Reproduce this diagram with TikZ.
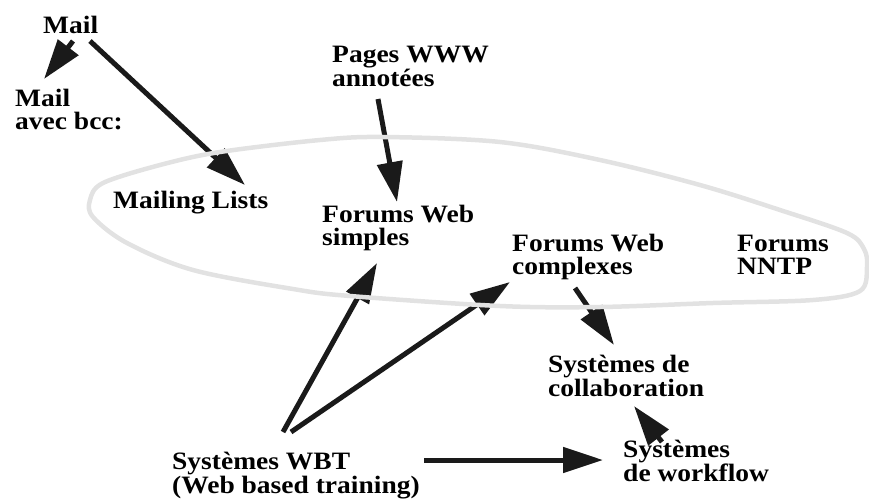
\documentclass[tikz,border=0pt]{standalone}
\usepackage{fontspec}
\setmainfont{Liberation Serif}[FakeStretch=1.10]
\usetikzlibrary{arrows.meta}
\definecolor{arrowink}{HTML}{1A1A1A}
\definecolor{loopgray}{HTML}{E2E2E2}
\begin{document}
\begin{tikzpicture}[x=1pt,y=-1pt,
  % labels are placed by the baseline of their last line
  lbl/.style={anchor=base west, inner sep=0pt, align=left,
              font=\fontsize{25}{22.5}\selectfont\bfseries},
  link/.style={line width=5pt, draw=arrowink, fill=arrowink,
               -{Triangle[length=40pt,width=25pt]}},
  grouploop/.style={line width=4.5pt, draw=loopgray}]
\useasboundingbox (0,0) rectangle (869,498);

% labels
\node[lbl] (mail)     at (43,33)   {Mail};
\node[lbl] (bcc)      at (15,129)  {Mail\\avec bcc:};
\node[lbl] (pages)    at (332,86)  {Pages WWW\\annotées};
\node[lbl] (mlists)   at (113,208) {Mailing Lists};
\node[lbl] (fsimple)  at (322,245) {Forums Web\\simples};
\node[lbl] (fcomplex) at (512,274) {Forums Web\\complexes};
\node[lbl] (nntp)     at (737,274) {Forums\\NNTP};
\node[lbl] (collab)   at (548,396) {Systèmes de\\collaboration};
\node[lbl] (wflow)    at (623,481) {Systèmes\\de workflow};
\node[lbl] (wbt)      at (172,493) {Systèmes WBT\\(Web based training)};

% connector end points
\coordinate (mailA)   at (73,41);
\coordinate (bccIn)   at (44,79);
\coordinate (mailB)   at (90,41);
\coordinate (mlIn)    at (245,185);
\coordinate (pgOut)   at (378,99);
\coordinate (fsIn)    at (397,202);
\coordinate (wbtA)    at (283,432);
\coordinate (fsBelow) at (377,263);
\coordinate (wbtB)    at (291,432);
\coordinate (fcIn)    at (510,282);
\coordinate (fcOut)   at (575,288);
\coordinate (coIn)    at (614,345);
\coordinate (wbtC)    at (424,460);
\coordinate (wfIn)    at (603,460);
\coordinate (wfOut)   at (662,442);
\coordinate (coBelow) at (634,406);

% connectors
\draw[link] (mailA) -- (bccIn);
\draw[link] (mailB) -- (mlIn);
\draw[link] (pgOut) -- (fsIn);
\draw[link] (wbtA) -- (fsBelow);
\draw[link] (wbtB) -- (fcIn);
\draw[link] (fcOut) -- (coIn);
\draw[link] (wbtC) -- (wfIn);
\draw[link] (wfOut) -- (coBelow);

% grouping loop around the forum family
\draw[grouploop] plot[smooth cycle, tension=0.55] coordinates {
  (90,200) (103,183) (160,165) (220,152) (320,140) (383,137)
  (500,142) (600,160) (700,185) (780,210) (847,233) (864,249)
  (867,267) (860,291) (813,300) (713,303) (600,307) (500,306)
  (350,296) (293,289) (193,270) (127,243) (93,217)};
\end{tikzpicture}
\end{document}
